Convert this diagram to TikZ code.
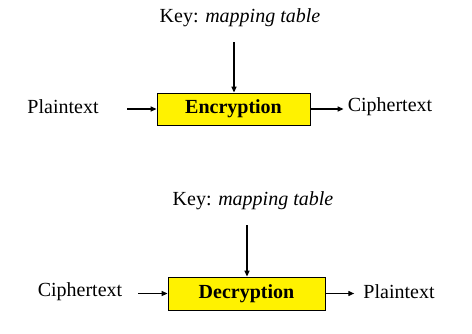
\documentclass[tikz,border=0pt]{standalone}
\usepackage{fontspec}
\setmainfont{Liberation Serif}
\usetikzlibrary{arrows.meta}
\begin{document}
\begin{tikzpicture}[x=1pt,y=-1pt,
  txt/.style={inner sep=0pt,font=\fontsize{20}{24}\selectfont},
  cbox/.style={draw,fill=yellow,line width=0.8pt,inner sep=0pt,font=\fontsize{20}{24}\selectfont\bfseries},
  flow/.style={-{Triangle[length=6pt,width=5pt]},line width=1.4pt}]
\useasboundingbox (0,0) rectangle (472,333);
% encryption
\node[txt] (k1) at (240,18) {Key: \textit{mapping table}};
\node[cbox,minimum width=153pt,minimum height=32pt] (enc) at (233.5,109) {Encryption};
\node[txt] (p1) at (63,107) {Plaintext};
\node[txt] (c1) at (390,107) {Ciphertext};
\coordinate (k1e) at (234,42);
\coordinate (p1e) at (127,109);
\draw[flow] (k1e) -- (k1e |- enc.north);
\draw[flow] (p1e) -- (enc.west |- p1e);
\draw[flow] (enc.east) -- ([xshift=-4pt]c1.west |- enc.east);
% decryption
\node[txt] (k2) at (253,201) {Key: \textit{mapping table}};
\node[cbox,minimum width=157pt,minimum height=33pt] (dec) at (246.5,293.5) {Decryption};
\node[txt] (c2) at (80,292) {Ciphertext};
\node[txt] (p2) at (399,292) {Plaintext};
\coordinate (k2e) at (247,225);
\coordinate (c2e) at (138,293.5);
\draw[flow] (k2e) -- (k2e |- dec.north);
\draw[flow] (c2e) -- (dec.west |- c2e);
\draw[flow] (dec.east) -- ([xshift=-9pt]p2.west |- dec.east);
\end{tikzpicture}
\end{document}
